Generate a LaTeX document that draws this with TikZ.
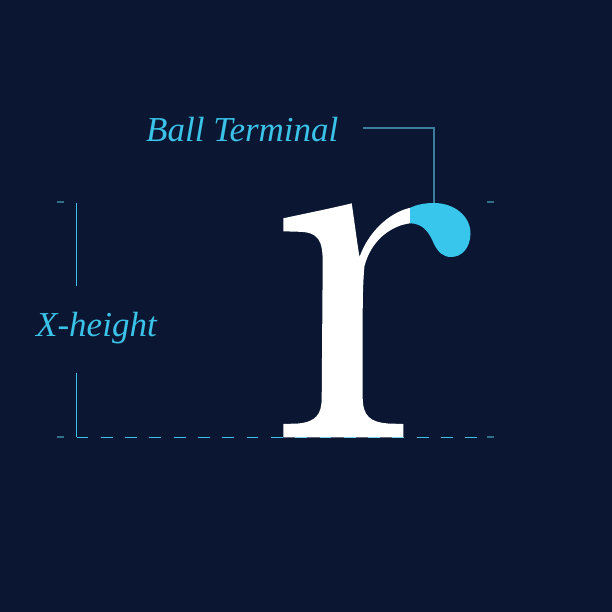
\documentclass[tikz,border=0pt]{standalone}
\usepackage{fontspec}
\setmainfont{Liberation Serif}
\usetikzlibrary{positioning,calc}
\definecolor{navybg}{HTML}{0B1732}
\definecolor{termcyan}{HTML}{38C6EC}
\definecolor{labelcyan}{HTML}{3AC2E8}
\definecolor{leaderblue}{HTML}{3A7C9C}
\definecolor{tickdim}{HTML}{2F6F88}
\tikzset{
  annot/.style={text=labelcyan, font=\itshape\fontsize{35}{40}\selectfont, inner sep=0pt},
  guide/.style={draw=labelcyan, line width=1.3pt},
  leader/.style={draw=leaderblue, line width=1.6pt},
  tickmark/.style={draw=tickdim, line width=2pt}
}

\begin{document}
\begin{tikzpicture}
		[x=1pt, y=-1pt]
		\fill[navybg] (0,0) rectangle (612,612);
		\useasboundingbox (0,0) rectangle (612,612);
		% guide coordinates
		\coordinate (xtop) at (76.5,203);
		\coordinate (xbot) at (76.5,437.3);
		\coordinate (baseend) at (477,437.3);
		\coordinate (balltop) at (433.7,203);

		% ticks at x-height and baseline
		\draw[tickmark] (57.3,202.5) -- (64,202.5);
		\draw[tickmark] (487.3,202.5) -- (494,202.5);
		\draw[tickmark] (57.3,437.3) -- (64,437.3);
		\draw[tickmark] (487.3,437.3) -- (494,437.3);

		% labels
		\node[annot, anchor=base west] (ballterm) at (146,141.5) {Ball Terminal};
		\node[annot, anchor=base west] (xheight) at (36,336) {X-height};

		% x-height bracket and baseline
		\draw[guide] (xtop) -- ++(0,83);
		\draw[guide] (xbot) -- ++(0,-64.6);
		\draw[guide, line width=1.6pt, dash pattern=on 11.8pt off 12.5pt] (xbot) -- (baseend);

		% the letter r
		\fill[white] (283.3,218.3)
			.. controls (310,212.5) and (333,208) .. (351.7,203.3)
			.. controls (354.5,222) and (357,242) .. (359.5,257)
			.. controls (368,233) and (388,213) .. (410,207.8)
			-- (410,223.3)
			.. controls (390,226) and (371,241) .. (364.5,266)
			.. controls (363,280) and (362.7,300) .. (362.7,320)
			-- (362.7,398)
			.. controls (363,416) and (370,422) .. (388,423.5)
			-- (403.3,424) -- (403.3,437.3) -- (283.3,437.3) -- (283.3,424)
			-- (298,423.5)
			.. controls (316,422) and (321.7,414) .. (321.7,398)
			-- (322.7,262)
			.. controls (322.7,240) and (318,232.5) .. (300,231.8)
			-- (283.3,231.3) -- cycle;
		% ball terminal
		\fill[termcyan] (410,207.8)
			.. controls (417,204.5) and (425,203) .. (434,203)
			.. controls (455,203) and (471,217) .. (470.5,234)
			.. controls (470,248) and (462,257) .. (451,257)
			.. controls (443,257) and (438,252) .. (434,244)
			.. controls (429,232) and (423,223.5) .. (410,223.3) -- cycle;

		% leader to the terminal
		\draw[leader] ([xshift=24pt]ballterm.east |- 0,128) -| (balltop);
	\end{tikzpicture}
\end{document}
